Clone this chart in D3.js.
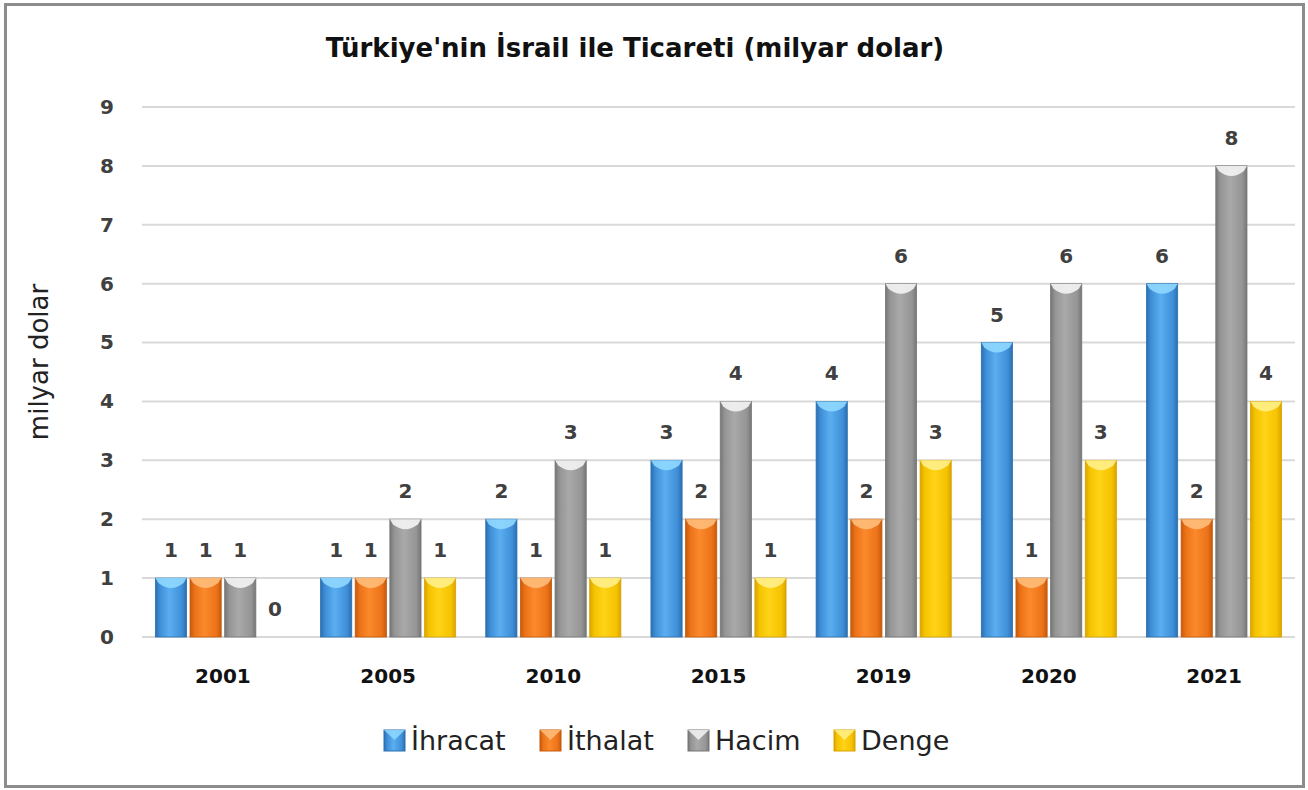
<!DOCTYPE html>
<html>
<head>
<meta charset="utf-8">
<script src="https://cdn.jsdelivr.net/npm/d3@7"></script>
<style>
  body { margin: 0; background: #fff; }
  svg text { font-family: "DejaVu Sans", sans-serif; }
</style>
</head>
<body>
<div id="chart"></div>
<script>
const years = ["2001", "2005", "2010", "2015", "2019", "2020", "2021"];
const seriesNames = ["İhracat", "İthalat", "Hacim", "Denge"];
const ihracat = [1, 1, 2, 3, 4, 5, 6];
const ithalat = [1, 1, 1, 2, 2, 1, 2];
const hacim = [1, 2, 3, 4, 6, 6, 8];
const denge = [0, 1, 1, 1, 3, 3, 4];
const yTicks = [0, 1, 2, 3, 4, 5, 6, 7, 8, 9];

const W = 1308, H = 790;
const plot = { left: 142, right: 1295, top: 107, bottom: 637 };

// colour sets: edge, mid, light, cap
const palette = [
  { edge: "#2b6fb0", mid: "#3f8fd8", light: "#5aaef0", cap: "#8fd8ff" },
  { edge: "#c55a0c", mid: "#ec7218", light: "#fb8a2c", cap: "#ffbd7a" },
  { edge: "#767676", mid: "#959595", light: "#a9a9a9", cap: "#f4f4f4" },
  { edge: "#d9a400", mid: "#f5c300", light: "#ffd318", cap: "#fff08a" }
];

const rows = years.map((y, i) => ({
  year: y,
  values: [ihracat[i], ithalat[i], hacim[i], denge[i]]
}));

const svg = d3.select("#chart").append("svg")
  .attr("width", W).attr("height", H);

const defs = svg.append("defs");
palette.forEach((p, i) => {
  const g = defs.append("linearGradient").attr("id", "g" + i)
    .attr("x1", "0").attr("x2", "1").attr("y1", "0").attr("y2", "0");
  g.append("stop").attr("offset", "0%").attr("stop-color", p.edge);
  g.append("stop").attr("offset", "15%").attr("stop-color", p.mid);
  g.append("stop").attr("offset", "45%").attr("stop-color", p.light);
  g.append("stop").attr("offset", "85%").attr("stop-color", p.mid);
  g.append("stop").attr("offset", "100%").attr("stop-color", p.edge);
});

// outer frame
svg.append("rect")
  .attr("x", 5.5).attr("y", 4.5).attr("width", W - 10).attr("height", H - 8)
  .attr("fill", "#fff").attr("stroke", "#8c8c8c").attr("stroke-width", 3);

svg.append("text")
  .attr("x", 635).attr("y", 57)
  .attr("text-anchor", "middle")
  .attr("font-size", 26).attr("font-weight", "bold").attr("fill", "#111")
  .text("Türkiye'nin İsrail ile Ticareti (milyar dolar)");

const x0 = d3.scaleBand().domain(years)
  .range([plot.left, plot.right]).paddingInner(0.14).paddingOuter(0.06);
const x1 = d3.scaleBand().domain(d3.range(4))
  .range([0, x0.bandwidth()]).padding(0.1);
const y = d3.scaleLinear().domain([0, 9]).range([plot.bottom, plot.top]);

// grid
svg.append("g").selectAll("line").data(yTicks).join("line")
  .attr("x1", plot.left).attr("x2", plot.right)
  .attr("y1", d => y(d)).attr("y2", d => y(d))
  .attr("stroke", "#d9d9d9").attr("stroke-width", 2);

// y axis
const yAxis = svg.append("g")
  .attr("transform", `translate(${plot.left - 28},0)`)
  .call(d3.axisLeft(y).tickValues(yTicks).tickSize(0).tickPadding(0));
yAxis.select(".domain").remove();
yAxis.selectAll("text")
  .attr("font-size", 20).attr("font-weight", "bold").attr("fill", "#404040")
  .attr("font-family", "DejaVu Sans, sans-serif");

// x axis
const xAxis = svg.append("g")
  .attr("transform", `translate(0,${plot.bottom})`)
  .call(d3.axisBottom(x0).tickSize(0).tickPadding(32));
xAxis.select(".domain").remove();
xAxis.selectAll("text")
  .attr("font-size", 20).attr("font-weight", "bold").attr("fill", "#111")
  .attr("font-family", "DejaVu Sans, sans-serif");

svg.append("text")
  .attr("transform", `translate(48,${(plot.top + plot.bottom) / 2 - 10}) rotate(-90)`)
  .attr("text-anchor", "middle")
  .attr("font-size", 26).attr("fill", "#222")
  .text("milyar dolar");

// bars
const groups = svg.append("g").selectAll("g").data(rows).join("g")
  .attr("transform", d => `translate(${x0(d.year)},0)`);

const bars = groups.selectAll("g.bar")
  .data(d => d.values.map((v, k) => ({ v, k })))
  .join("g").attr("class", "bar");

const bw = x1.bandwidth();
bars.filter(d => d.v > 0).append("rect")
  .attr("x", d => x1(d.k))
  .attr("y", d => y(d.v))
  .attr("width", bw)
  .attr("height", d => y(0) - y(d.v))
  .attr("fill", d => `url(#g${d.k})`)
  .attr("stroke", d => palette[d.k].edge)
  .attr("stroke-width", 0.8);

bars.filter(d => d.v > 0).append("path")
  .attr("d", d => {
    const xl = x1(d.k), t = y(d.v);
    return `M${xl},${t} L${xl + bw},${t} L${xl + bw - 3},${t + 5}` +
      ` Q${xl + bw / 2},${t + 15} ${xl + 3},${t + 5} Z`;
  })
  .attr("fill", d => palette[d.k].cap)
  .attr("opacity", 0.9);

bars.append("text")
  .attr("x", d => x1(d.k) + bw / 2)
  .attr("y", d => y(d.v) - 21)
  .attr("text-anchor", "middle")
  .attr("font-size", 20).attr("font-weight", "bold").attr("fill", "#404040")
  .text(d => d.v);

// legend
const legendX = [384, 540, 688, 834];
const legend = svg.append("g").selectAll("g").data(seriesNames).join("g")
  .attr("transform", (d, i) => `translate(${legendX[i]},730)`);
legend.append("rect")
  .attr("width", 21).attr("height", 21)
  .attr("fill", (d, i) => `url(#g${i})`)
  .attr("stroke", (d, i) => palette[i].edge);
legend.append("path")
  .attr("d", "M0,0 L21,0 L10.5,10 Z")
  .attr("fill", (d, i) => palette[i].cap).attr("opacity", 0.85);
legend.append("text")
  .attr("x", 27).attr("y", 20)
  .attr("font-size", 27).attr("fill", "#222")
  .text(d => d);
</script>
</body>
</html>
